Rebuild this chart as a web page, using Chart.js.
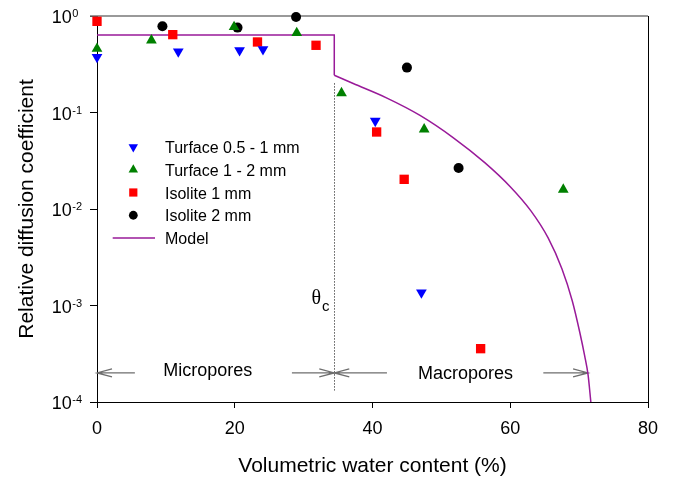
<!DOCTYPE html>
<html>
<head>
<meta charset="utf-8">
<script src="https://cdn.jsdelivr.net/npm/chart.js@4/dist/chart.umd.min.js"></script>
<style>
  body { margin: 0; background: #fff; }
  #wrap { width: 673px; height: 480px; }
</style>
</head>
<body>
<div id="wrap"><canvas id="chart" width="673" height="480"></canvas></div>
<script>
// values: x = volumetric water content (%), y = relative diffusion coefficient
const seriesNames = ["Turface 0.5 - 1 mm", "Turface 1 - 2 mm", "Isolite 1 mm", "Isolite 2 mm", "Model"];

const turfaceSmallX = [0, 11.8, 20.7, 24.1, 40.4, 47.1];
const turfaceSmallY = [0.376, 0.427, 0.441, 0.452, 0.0817, 0.00136];

const turfaceLargeX = [0, 7.9, 19.9, 29.0, 35.5, 47.5, 67.7];
const turfaceLargeY = [0.459, 0.560, 0.769, 0.667, 0.159, 0.067, 0.0159];

const isoliteSmallX = [0, 11.0, 23.3, 31.8, 40.6, 44.6, 55.7];
const isoliteSmallY = [0.881, 0.641, 0.538, 0.497, 0.0628, 0.0203, 0.000357];

const isoliteLargeX = [9.5, 20.4, 28.9, 45.0, 52.5];
const isoliteLargeY = [0.782, 0.758, 0.977, 0.292, 0.0266];

const modelStepX = [0, 34.45, 34.45];
const modelStepY = [0.635, 0.635, 0.243];
const modelCurveX = [34.45, 37.2, 42.1, 46.9, 51.7, 56.3, 60.0, 63.0, 65.5, 67.5, 69.0, 70.1, 70.8, 71.3, 71.7];
const modelCurveY = [0.243, 0.1995, 0.141, 0.0933, 0.055, 0.0302, 0.0170, 0.00955, 0.00501, 0.0024, 0.00112, 0.000525, 0.000302, 0.000191, 0.0001];

const thetaC = 34.45;
const xTicks = [0, 20, 40, 60, 80];
const yTickValues = [1, 0.1, 0.01, 0.001, 0.0001];
const yTickExponents = ["0", "-1", "-2", "-3", "-4"];

const pts = (xs, ys) => xs.map((x, i) => ({ x, y: ys[i] }));

const FONT = "'Liberation Sans', Arial, sans-serif";
Chart.defaults.font.family = FONT;
Chart.defaults.color = "#000";

const purple = "#991a99";

function arrow(ctx, x1, x2, y) {
  // shaft from x1 to tip at x2, open head
  const dir = x2 > x1 ? 1 : -1;
  ctx.beginPath();
  ctx.moveTo(x1, y);
  ctx.lineTo(x2, y);
  ctx.moveTo(x2 - dir * 15, y - 4);
  ctx.lineTo(x2, y);
  ctx.lineTo(x2 - dir * 15, y + 4);
  ctx.stroke();
}

const decorations = {
  id: "decorations",
  beforeDatasetsDraw(chart) {
    const { ctx, chartArea: a, scales: { x, y } } = chart;
    ctx.save();
    // top + right frame
    ctx.strokeStyle = "#777";
    ctx.lineWidth = 1.6;
    ctx.beginPath();
    ctx.moveTo(a.left - 7, a.top);
    ctx.lineTo(a.right, a.top);
    ctx.stroke();
    ctx.strokeStyle = "#000";
    ctx.lineWidth = 1;
    ctx.beginPath();
    ctx.moveTo(a.right + 0.5, a.top);
    ctx.lineTo(a.right + 0.5, a.bottom);
    ctx.stroke();

    // theta_c dotted line
    const xc = Math.round(x.getPixelForValue(thetaC)) + 0.5;
    ctx.setLineDash([1, 2]);
    ctx.beginPath();
    ctx.moveTo(xc, y.getPixelForValue(0.2));
    ctx.lineTo(xc, y.getPixelForValue(0.000132));
    ctx.stroke();
    ctx.setLineDash([]);

    // pore-range arrows
    const ya = y.getPixelForValue(0.0002);
    ctx.strokeStyle = "#6e6e6e";
    ctx.lineWidth = 1.3;
    arrow(ctx, x.getPixelForValue(5.5), x.getPixelForValue(0), ya);
    arrow(ctx, x.getPixelForValue(28.3), x.getPixelForValue(thetaC), ya);
    arrow(ctx, x.getPixelForValue(42.1), x.getPixelForValue(thetaC), ya);
    arrow(ctx, x.getPixelForValue(64.8), x.getPixelForValue(71.3), ya);

    ctx.fillStyle = "#000";
    ctx.font = "18px " + FONT;
    ctx.textAlign = "center";
    ctx.textBaseline = "alphabetic";
    ctx.fillText("Micropores", x.getPixelForValue(16.07), ya + 3.5);
    ctx.fillText("Macropores", x.getPixelForValue(53.5), ya + 6.5);

    // theta_c label
    const y3 = y.getPixelForValue(0.001);
    ctx.textAlign = "left";
    ctx.font = "20px 'Liberation Serif', 'Times New Roman', serif";
    ctx.fillText("\u03b8", xc - 23, y3 - 2);
    ctx.font = "15px " + FONT;
    ctx.fillText("c", xc - 12.5, y3 + 5);

    // y tick labels with superscripts
    yTickValues.forEach((v, i) => {
      const py = y.getPixelForValue(v);
      ctx.textAlign = "right";
      ctx.font = "18px " + FONT;
      ctx.fillText("10", a.left - 25.3, py + 7);
      ctx.textAlign = "left";
      ctx.font = "11px " + FONT;
      ctx.fillText(yTickExponents[i], a.left - 24.7, py + 1);
    });
    ctx.restore();
  },
  afterDraw(chart) {
    const { ctx, chartArea: a } = chart;
    ctx.save();
    const sx = a.left + 36.3, tx = a.left + 68, top = a.top + 131, step = 22.75;
    ctx.font = "16px " + FONT;
    ctx.textBaseline = "alphabetic";
    ctx.textAlign = "left";
    chart.data.datasets.slice(0, 4).forEach((ds, i) => {
      const yy = top + i * step;
      ctx.fillStyle = ds.pointBackgroundColor;
      Chart.helpers.drawPoint(ctx, {
        pointStyle: ds.pointStyle,
        radius: ds.pointRadius * 0.88,
        rotation: ds.pointRotation || 0,
        borderWidth: 0
      }, sx, yy);
      ctx.fillStyle = "#000";
      ctx.fillText(seriesNames[i], tx, yy + 6);
    });
    const ym = top + 4 * step;
    ctx.strokeStyle = purple;
    ctx.lineWidth = 1.5;
    ctx.beginPath();
    ctx.moveTo(a.left + 15.7, ym);
    ctx.lineTo(a.left + 58, ym);
    ctx.stroke();
    ctx.fillStyle = "#000";
    ctx.fillText(seriesNames[4], tx, ym + 6);
    ctx.restore();
  }
};

function markerSet(i, xs, ys, style, radius, color, rotation) {
  return {
    label: seriesNames[i],
    data: pts(xs, ys),
    pointStyle: style,
    pointRadius: radius,
    pointRotation: rotation || 0,
    pointBackgroundColor: color,
    pointBorderWidth: 0,
    showLine: false,
    clip: false
  };
}

new Chart(document.getElementById("chart"), {
  type: "scatter",
  data: {
    datasets: [
      markerSet(0, turfaceSmallX, turfaceSmallY, "triangle", 6.2, "#0000ff", 180),
      markerSet(1, turfaceLargeX, turfaceLargeY, "triangle", 6.2, "#008000"),
      markerSet(2, isoliteSmallX, isoliteSmallY, "rect", 6.6, "#ff0000"),
      markerSet(3, isoliteLargeX, isoliteLargeY, "circle", 5, "#000000"),
      {
        label: seriesNames[4], data: pts(modelStepX, modelStepY), showLine: true,
        borderColor: purple, borderWidth: 1.5, pointRadius: 0, tension: 0
      },
      {
        label: seriesNames[4], data: pts(modelCurveX, modelCurveY), showLine: true,
        borderColor: purple, borderWidth: 1.5, pointRadius: 0, cubicInterpolationMode: "monotone"
      }
    ]
  },
  options: {
    responsive: false,
    animation: false,
    devicePixelRatio: 1,
    layout: { padding: { left: 0, right: 25, top: 16, bottom: 0 } },
    plugins: { legend: { display: false }, tooltip: { enabled: false } },
    scales: {
      x: {
        type: "linear", min: 0, max: 80,
        afterBuildTicks: s => { s.ticks = xTicks.map(v => ({ value: v })); },
        ticks: { font: { size: 18 }, color: "#000", padding: 10, maxRotation: 0, autoSkip: false },
        grid: { drawOnChartArea: false, drawTicks: true, tickLength: 6, color: "#000" },
        border: { display: true, color: "#000", width: 1 },
        title: {
          display: true, text: "Volumetric water content (%)",
          font: { size: 21 }, color: "#000", padding: { top: 0, bottom: 1 }
        },
        afterFit: s => { s.height = 78; }
      },
      y: {
        type: "logarithmic", min: 0.0001, max: 1,
        afterBuildTicks: s => { s.ticks = yTickValues.map(v => ({ value: v })); },
        ticks: { callback: () => "", autoSkip: false },
        grid: { drawOnChartArea: false, drawTicks: true, tickLength: 7, color: "#000" },
        border: { display: true, color: "#000", width: 1 },
        title: {
          display: true, text: "Relative diffusion coefficient",
          font: { size: 21 }, color: "#000", padding: { top: 15, bottom: 0 }
        },
        afterFit: s => { s.width = 97; }
      }
    }
  },
  plugins: [decorations]
});
</script>
</body>
</html>
